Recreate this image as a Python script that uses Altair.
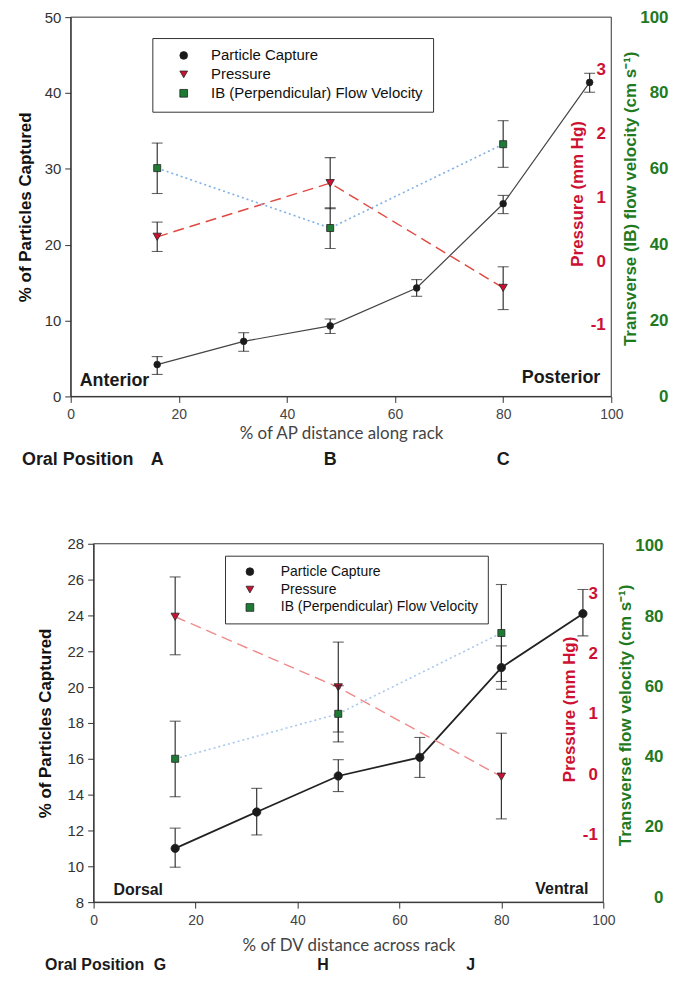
import altair as alt
import pandas as pd

FONT = "Liberation Sans"
RED = "#cc1133"
GREEN = "#1f7a1f"
DARK = "#222222"

# ---------------- Panel 1 : anterior -> posterior ----------------
ap_capture_x = [16, 32, 48, 64, 80, 96]
ap_capture = [4.2, 7.26, 9.3, 14.3, 25.4, 41.4]
ap_capture_lo = [2.9, 5.95, 8.3, 13.2, 24.1, 40.1]
ap_capture_hi = [5.25, 8.4, 10.2, 15.4, 26.5, 42.6]

ap_site_x = [16, 48, 80]
ap_pressure = [0.38, 1.22, -0.42]
ap_pressure_lo = [0.15, 0.82, -0.76]
ap_pressure_hi = [0.61, 1.62, -0.09]
ap_velocity = [60.2, 44.4, 66.5]
ap_velocity_lo = [53.5, 39.0, 60.4]
ap_velocity_hi = [66.8, 49.7, 72.7]
ap_positions = ["A", "B", "C"]
ap_position_x = [16, 48, 80]

# ---------------- Panel 2 : dorsal -> ventral ----------------
dv_capture_x = [16, 32, 48, 64, 80, 96]
dv_capture = [11.0, 13.03, 15.04, 16.08, 21.09, 24.1]
dv_capture_lo = [9.95, 11.75, 14.17, 14.96, 19.88, 22.86]
dv_capture_hi = [12.13, 14.35, 15.95, 17.19, 22.3, 25.45]

dv_site_x = [16, 48, 80]
dv_pressure = [2.61, 1.44, -0.04]
dv_pressure_lo = [1.98, 0.70, -0.74]
dv_pressure_hi = [3.27, 2.19, 0.68]
dv_velocity = [39.4, 52.2, 75.2]
dv_velocity_lo = [28.6, 44.2, 61.4]
dv_velocity_hi = [50.1, 60.2, 89.0]
dv_positions = ["G", "H", "J"]
dv_position_x = [13, 45, 74]

series_names = ["Particle Capture", "Pressure", "IB (Perpendicular) Flow Velocity"]
series_shapes = ["circle", "triangle-down", "square"]
series_colors = ["#1a1a1a", "#cc1133", "#1e7b34"]

HYPHEN_LABELS = "datum.value < 0 ? '-' + format(abs(datum.value), 'd') : datum.label"


def series_layer(x, val, lo, hi, name, scale, axis, title, X, line_props, point_size, legend):
    df = pd.DataFrame({"x": x, "val": val, "lo": lo, "hi": hi, "series": [name] * len(x)})
    base = alt.Chart(df)
    line = base.mark_line(**line_props).encode(
        x=X, y=alt.Y("val:Q", scale=scale, axis=axis, title=title))
    err = base.mark_errorbar(ticks=True, size=11, thickness=1.1, color=DARK).encode(
        x=X, y=alt.Y("lo:Q", scale=scale, axis=axis, title=title), y2="hi:Q")
    pts = base.mark_point(filled=True, opacity=1, stroke=DARK, strokeWidth=0.8, size=point_size).encode(
        x=X, y=alt.Y("val:Q", scale=scale, axis=axis, title=title),
        color=alt.Color("series:N", scale=alt.Scale(domain=series_names, range=series_colors), legend=legend),
        shape=alt.Shape("series:N", scale=alt.Scale(domain=series_names, range=series_shapes), legend=legend))
    return alt.layer(line, err, pts)


def make_panel(c):
    W, H, L = c["W"], c["H"], c["L"]
    X = alt.X("x:Q", scale=alt.Scale(domain=[0, 100], nice=False, range=[L, L + W]),
              axis=alt.Axis(values=[0, 20, 40, 60, 80, 100], tickSize=6, labelPadding=5,
                            labelFlush=False,
                            labelFont=FONT, labelFontSize=14, labelColor="#444",
                            titleFont="Lato", titleFontSize=17, titleFontWeight="normal",
                            titleColor="#444", titlePadding=c["xtitlepad"],
                            domainColor="#333", tickColor="#333", grid=False),
              title=c["xtitle"])
    legend = alt.Legend(title=None, orient="none", legendX=L + c["legX"], legendY=c["legY"],
                        strokeColor="#333", fillColor="white", padding=c["legPad"],
                        symbolOffset=c["symOff"], labelOffset=c["labOff"], labelLimit=400,
                        labelFont=FONT, labelFontSize=c["legFont"], labelColor="#111",
                        rowPadding=c["rowPad"], symbolSize=60, symbolStrokeColor=DARK,
                        symbolStrokeWidth=0.8)
    cap_axis = alt.Axis(orient="left", offset=-L, values=c["capTicks"], tickSize=6, labelPadding=4,
                        labelFont=FONT, labelFontSize=15, labelColor="#333",
                        titleFont=FONT, titleFontSize=17, titleFontWeight="bold",
                        titleColor="#111", titlePadding=c["captitlepad"],
                        domainColor="#333", tickColor="#333", grid=False)
    pres_axis = alt.Axis(orient="left", offset=c["presOffset"], values=[-1, 0, 1, 2, 3],
                         ticks=False, domain=False, labelPadding=2, labelExpr=HYPHEN_LABELS,
                         labelFont=FONT, labelFontSize=17, labelFontWeight="bold", labelColor=RED,
                         titleFont=FONT, titleFontSize=17, titleFontWeight="bold",
                         titleColor=RED, titlePadding=4, titleY=c["presTitleY"], grid=False)
    vel_axis = alt.Axis(orient="left", offset=c["velOffset"], values=[0, 20, 40, 60, 80, 100],
                        ticks=False, domain=False, labelPadding=2,
                        labelFont=FONT, labelFontSize=17, labelFontWeight="bold", labelColor=GREEN,
                        titleFont=FONT, titleFontSize=17, titleFontWeight="bold",
                        titleColor=GREEN, titlePadding=0, titleY=c["velTitleY"], grid=False)

    cap = series_layer(c["cap_x"], c["cap"], c["cap_lo"], c["cap_hi"], series_names[0],
                       alt.Scale(domain=c["capDomain"], nice=False, zero=False), cap_axis,
                       "% of Particles Captured", X,
                       dict(color=c["capLine"], strokeWidth=c["capW"]), c["capSize"], legend)
    pres = series_layer(c["site_x"], c["pres"], c["pres_lo"], c["pres_hi"], series_names[1],
                        alt.Scale(domain=[-2.12, 3.82], nice=False, zero=False), pres_axis,
                        "Pressure (mm Hg)", X,
                        dict(color=c["presLine"], strokeWidth=1.4, strokeDash=[11, 6]), 70, legend)
    vel = series_layer(c["site_x"], c["vel"], c["vel_lo"], c["vel_hi"], series_names[2],
                       alt.Scale(domain=c["velDomain"], nice=False, zero=False), vel_axis,
                       c["veltitle"], X,
                       dict(color=c["velLine"], strokeWidth=1.6, strokeDash=[2, 3]), 50, legend)

    frame = alt.Chart(pd.DataFrame({"t": [0]})).mark_rect(
        fillOpacity=0, stroke="#333", strokeWidth=1).encode(
        x=alt.value(L), x2=alt.value(L + W), y=alt.value(0), y2=alt.value(H))

    bold = dict(font=FONT, fontWeight="bold", color="#1a1a1a", baseline="middle")
    pos_df = pd.DataFrame({"x": c["pos_x"], "label": c["pos"]})
    letters = alt.Chart(pos_df).mark_text(fontSize=c["oralFont"], align="center", **bold).encode(
        x=X, y=alt.value(c["oralY"]), text="label:N")
    oral = alt.Chart(pd.DataFrame({"t": ["Oral Position"]})).mark_text(
        fontSize=c["oralFont"], align="center", **bold).encode(
        x=alt.value(L + c["oralX"]), y=alt.value(c["oralY"]), text="t:N")
    left_lbl = alt.Chart(pd.DataFrame({"t": [c["leftText"]]})).mark_text(
        fontSize=c["endFont"], align="left", **bold).encode(
        x=alt.value(L + c["leftX"]), y=alt.value(c["leftY"]), text="t:N")
    right_lbl = alt.Chart(pd.DataFrame({"t": [c["rightText"]]})).mark_text(
        fontSize=c["endFont"], align="right", **bold).encode(
        x=alt.value(L + c["rightX"]), y=alt.value(c["rightY"]), text="t:N")
    layers = [frame, cap, pres, vel, letters, oral, left_lbl, right_lbl]
    return alt.layer(*layers).resolve_scale(y="independent").properties(
        width=L + W, height=H, view=alt.ViewBackground(strokeOpacity=0))


p1 = make_panel(dict(
    W=543, H=381, L=0, xtitle="% of AP distance along rack", xtitlepad=4,
    legX=82, legY=21, legPad=10, symOff=14, labOff=20, legFont=15, rowPad=3,
    capTicks=[0, 10, 20, 30, 40, 50], captitlepad=10, capDomain=[0, 50],
    presOffset=-539, presTitleY=177, velOffset=-602, velTitleY=182, velDomain=[0, 100],
    veltitle="Transverse (IB) flow velocity (cm s⁻¹)",
    cap_x=ap_capture_x, cap=ap_capture, cap_lo=ap_capture_lo, cap_hi=ap_capture_hi,
    site_x=ap_site_x, pres=ap_pressure, pres_lo=ap_pressure_lo, pres_hi=ap_pressure_hi,
    vel=ap_velocity, vel_lo=ap_velocity_lo, vel_hi=ap_velocity_hi,
    capLine="#444444", capW=1.2, capSize=45, presLine="#e0473f", velLine="#7fb0e6",
    pos_x=ap_position_x, pos=ap_positions, oralFont=18, oralY=445, oralX=7,
    leftText="Anterior", leftX=9, leftY=366, rightText="Posterior", rightX=532, rightY=363,
    endFont=18,
))

p2 = make_panel(dict(
    W=512, H=360, L=23, xtitle="% of DV distance across rack", xtitlepad=11,
    legX=132, legY=12, legPad=9, symOff=9, labOff=24, legFont=14, rowPad=4,
    capTicks=list(range(8, 29, 2)), captitlepad=13, capDomain=[8, 28],
    presOffset=-531, presTitleY=166, velOffset=-597, velTitleY=172, velDomain=[-1.4, 100.6],
    veltitle="Transverse flow velocity (cm s⁻¹)",
    cap_x=dv_capture_x, cap=dv_capture, cap_lo=dv_capture_lo, cap_hi=dv_capture_hi,
    site_x=dv_site_x, pres=dv_pressure, pres_lo=dv_pressure_lo, pres_hi=dv_pressure_hi,
    vel=dv_velocity, vel_lo=dv_velocity_lo, vel_hi=dv_velocity_hi,
    capLine="#222222", capW=1.8, capSize=70, presLine="#f08a8a", velLine="#a8c8f0",
    pos_x=dv_position_x, pos=dv_positions, oralFont=16, oralY=423, oralX=1,
    leftText="Dorsal", leftX=20, leftY=348, rightText="Ventral", rightX=497, rightY=347,
    endFont=16,
))

chart = alt.concat(p1, p2, columns=1, spacing=68).resolve_scale(
    color="independent", shape="independent"
).configure_view(strokeOpacity=0).configure_axis(grid=False).properties(
    padding={"left": 8, "top": -2, "right": 0, "bottom": -3}, background="white"
)

chart.save("out.html", embed_options={"renderer": "svg", "actions": False})
